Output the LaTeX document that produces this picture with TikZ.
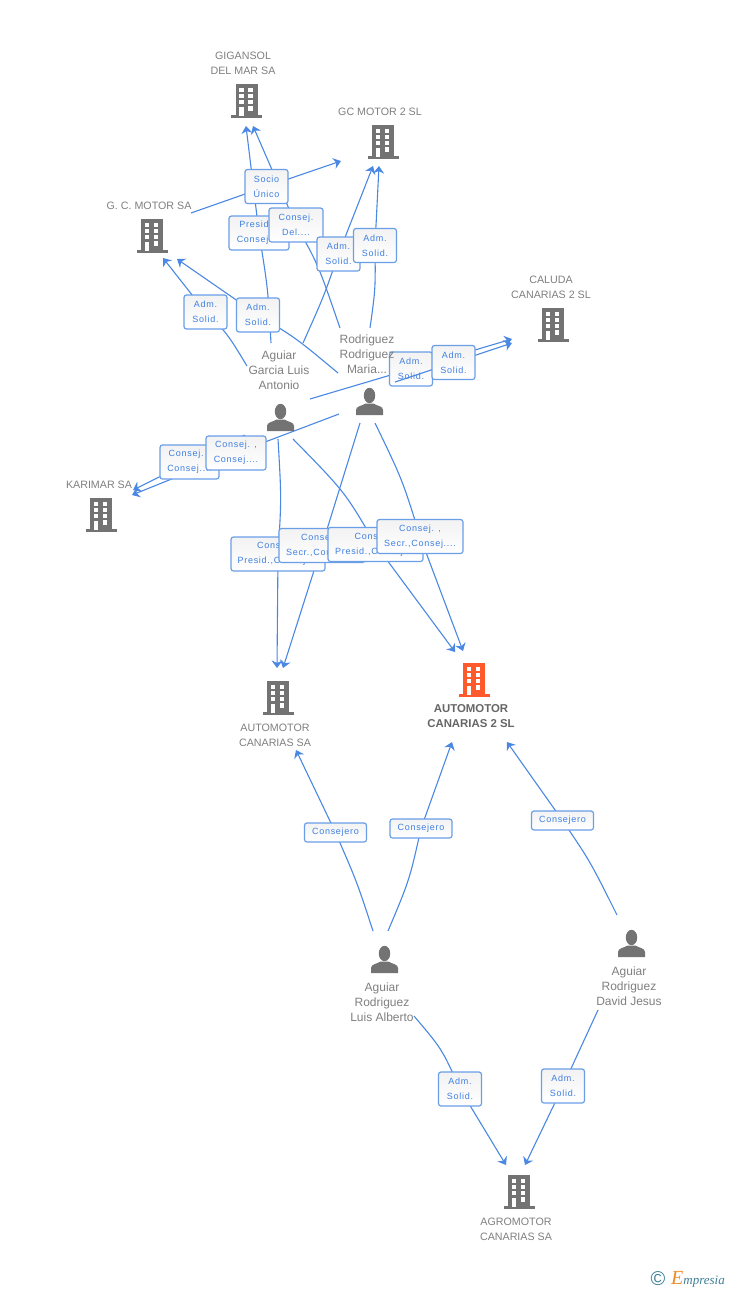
\documentclass[tikz,border=0pt]{standalone}
\usepackage{fontspec}
\setmainfont{Liberation Sans}
\newfontfamily\lblfamily[LetterSpace=8]{Liberation Sans}
\newfontfamily\logofamily{Liberation Serif}
\usetikzlibrary{arrows.meta,backgrounds}
\definecolor{linkblue}{HTML}{4A88E4}
\definecolor{boxblue}{HTML}{6A9FE8}
\definecolor{lbltext}{HTML}{3F7FE0}
\definecolor{icongray}{HTML}{737373}
\definecolor{txtgray}{HTML}{808080}
\definecolor{iconorange}{HTML}{FF5A2B}
\definecolor{logoteal}{HTML}{3F7F96}
\definecolor{logoorange}{HTML}{F08A24}
\tikzset{
  x=1pt,y=-1pt,
  link/.style={draw=linkblue,line width=1.1pt},
  arrowlink/.style={link,-{Stealth[length=7.5pt,width=11pt,inset=2.5pt]}},
  lbl/.style={draw=boxblue,line width=1.2pt,rounded corners=2.5pt,top color=black!5,bottom color=white,
    text=lbltext,inner sep=0pt,align=center,minimum height=34pt,
    font=\lblfamily\fontsize{9}{15}\selectfont},
  lblone/.style={lbl,minimum height=19pt,minimum width=62pt},
  name text/.style={text=txtgray,inner sep=0pt,align=center,font=\fontsize{10.7}{15}\selectfont},
  person text/.style={name text,font=\fontsize{12}{15}\selectfont},
}
\newcommand{\buildingicon}[3]{%
  \begin{scope}[shift={(#1,#2)}]
    \fill[#3] (-11,0) rectangle (11,32);
    \fill[#3] (-15.5,31) rectangle (15.5,34);
    \foreach \wy in {4,10,16}{
      \fill[white] (-7.5,\wy) rectangle ++(4.5,4);
      \fill[white] (1.5,\wy) rectangle ++(4.5,4);
    }
    \fill[white] (-7.5,22.5) rectangle (-3,32);
    \fill[white] (1.5,22) rectangle ++(4.5,4.5);
  \end{scope}}
\newcommand{\personicon}[2]{%
  \begin{scope}[shift={(#1,#2)}]
    \fill[icongray] (13.5,7.5) ellipse [x radius=5.7,y radius=7.7];
    \fill[icongray] (0,27) -- (0,22) .. controls (0,18) and (6,18) .. (9.5,15.5)
      -- (17.5,15.5) .. controls (21,18) and (27,18) .. (27,22) -- (27,27) -- cycle;
  \end{scope}}
\begin{document}
\begin{tikzpicture}
\useasboundingbox (0,0) rectangle (728,1290);

% free ends of the connectors
\coordinate (aglTop) at (271,343);
\coordinate (aglGC) at (303,343);
\coordinate (aglGCM) at (247,366);
\coordinate (aglCal) at (310,399);
\coordinate (aglKar) at (245,435);
\coordinate (aglAut) at (278,439);
\coordinate (aglAut2) at (293,439);
\coordinate (rodTop) at (340,328);
\coordinate (rodGC) at (370,328);
\coordinate (rodGCM) at (338,373);
\coordinate (rodCal) at (395,382);
\coordinate (rodKar) at (339,414);
\coordinate (rodAut) at (360,423);
\coordinate (rodAut2) at (375,423);
\coordinate (gcmOut) at (191,213);
\coordinate (luisL) at (373,931);
\coordinate (luisR) at (388,931);
\coordinate (luisB) at (414,1016);
\coordinate (davT) at (617,915);
\coordinate (davB) at (598,1010);
\coordinate (gigL) at (246,126);
\coordinate (gigR) at (253,126);
\coordinate (gcL) at (373,166);
\coordinate (gcR) at (379,166);
\coordinate (gcIn) at (341,161);
\coordinate (gcmL) at (163,258);
\coordinate (gcmR) at (177,259);
\coordinate (calA) at (512,339);
\coordinate (calB) at (512,343);
\coordinate (karA) at (133,490);
\coordinate (karB) at (132,495);
\coordinate (autL) at (277,668);
\coordinate (autR) at (283,668);
\coordinate (autB) at (296,750);
\coordinate (au2L) at (455,652);
\coordinate (au2R) at (463,651);
\coordinate (au2BL) at (452,742);
\coordinate (au2BR) at (507,742);
\coordinate (agrL) at (506,1165);
\coordinate (agrR) at (525,1165);

% relation labels
\node[lbl,minimum width=60pt] (presid) at (259,233) {Presid. ,\\Consej....};
\node[lbl,minimum width=54pt] (conDel) at (296,225) {Consej.\\Del....};
\node[lbl,minimum width=43pt] (socio) at (266.5,186.5) {Socio\\Único};
\node[lbl,minimum width=43pt] (admA) at (338.5,254) {Adm.\\Solid.};
\node[lbl,minimum width=43pt] (admB) at (375,245.5) {Adm.\\Solid.};
\node[lbl,minimum width=43pt] (admC) at (205.5,312) {Adm.\\Solid.};
\node[lbl,minimum width=43pt] (admD) at (258,315) {Adm.\\Solid.};
\node[lbl,minimum width=43pt] (admE) at (411,369) {Adm.\\Solid.};
\coordinate (admFc) at (453.5,362.5);
\draw[link] (rodCal) -- (admFc);
\node[lbl,minimum width=43pt] (admF) at (453.5,362.5) {Adm.\\Solid.};
\node[lbl,minimum width=59pt] (conK) at (189.5,462) {Consej. ,\\Consej....};
\node[lbl,minimum width=60pt] (conL) at (236,453) {Consej. ,\\Consej....};
\node[lbl,minimum width=94pt] (boxA) at (278,554) {Consej. ,\\Presid.,Consej....};
\node[lbl,minimum width=86pt] (boxB) at (322,545.5) {Consej. ,\\Secr.,Consej....};
\node[lbl,minimum width=95pt] (boxC) at (375.5,544.5) {Consej. ,\\Presid.,Consej....};
\node[lbl,minimum width=86pt] (boxD) at (420,536.5) {Consej. ,\\Secr.,Consej....};
\node[lblone] (coA) at (335.5,832.5) {Consejero};
\node[lblone] (coB) at (421,828.5) {Consejero};
\node[lblone] (coC) at (562.5,820.5) {Consejero};
\node[lbl,minimum width=43pt] (admG) at (460,1089) {Adm.\\Solid.};
\node[lbl,minimum width=43pt] (admH) at (563,1086) {Adm.\\Solid.};

% connectors, behind the labels
\begin{scope}[on background layer]
\fill[white] (0,0) rectangle (728,1290);
\draw[link] (aglTop) .. controls (268,289) .. (presid.center);
\draw[arrowlink] (presid.center) -- (gigL);
\draw[link] (rodTop) .. controls (318,264) .. (conDel.center);
\draw[arrowlink] (conDel.center) -- (gigR);
\draw[link] (gcmOut) -- (socio.center);
\draw[arrowlink] (socio.center) -- (gcIn);
\draw[link] (aglGC) .. controls (324,296) .. (admA.center);
\draw[arrowlink] (admA.center) -- (gcL);
\draw[link] (rodGC) .. controls (375.5,289) .. (admB.center);
\draw[arrowlink] (admB.center) -- (gcR);
\draw[link] (aglGCM) .. controls (227,333) .. (admC.center);
\draw[arrowlink] (admC.center) -- (gcmL);
\draw[link] (rodGCM) .. controls (296,338) .. (admD.center);
\draw[arrowlink] (admD.center) -- (gcmR);
\draw[link] (aglCal) -- (admE.center);
\draw[arrowlink] (admE.center) -- (calA);
\draw[arrowlink] (admF.center) -- (calB);
\draw[link] (rodKar) -- (conL.center);
\draw[arrowlink] (conL.center) -- (karB);
\draw[link] (aglKar) -- (conK.center);
\draw[arrowlink] (conK.center) -- (karA);
\draw[link] (aglAut) .. controls (281.5,499) .. (boxA.center);
\draw[arrowlink] (boxA.center) -- (autL);
\draw[link] (rodAut) -- (boxB.center);
\draw[arrowlink] (boxB.center) -- (autR);
\draw[link] (aglAut2) .. controls (345,492) .. (boxC.center);
\draw[arrowlink] (boxC.center) -- (au2L);
\draw[link] (rodAut2) .. controls (402.5,480) .. (boxD.center);
\draw[arrowlink] (boxD.center) -- (au2R);
\draw[link] (luisL) .. controls (357,882) .. (coA.center);
\draw[arrowlink] (coA.center) -- (autB);
\draw[link] (luisR) .. controls (409.5,880) .. (coB.center);
\draw[arrowlink] (coB.center) -- (au2BL);
\draw[link] (davT) .. controls (590,861) .. (coC.center);
\draw[arrowlink] (coC.center) -- (au2BR);
\draw[link] (luisB) .. controls (442,1049) .. (admG.center);
\draw[arrowlink] (admG.center) -- (agrL);
\draw[link] (davB) -- (admH.center);
\draw[arrowlink] (admH.center) -- (agrR);
\end{scope}

% icons
\buildingicon{246.5}{84}{icongray}
\buildingicon{383}{125}{icongray}
\buildingicon{152}{219}{icongray}
\buildingicon{553}{308}{icongray}
\buildingicon{101}{498}{icongray}
\buildingicon{278}{681}{icongray}
\buildingicon{474}{663}{iconorange}
\buildingicon{519}{1175}{icongray}
\personicon{267}{404}
\personicon{356}{388}
\personicon{371}{946}
\personicon{618}{930}

% names
\node[name text] (tGig) at (243,63) {GIGANSOL\\DEL MAR SA};
\node[name text] (tGC) at (380,111.5) {GC MOTOR 2 SL};
\node[name text] (tGCM) at (149,205.5) {G. C. MOTOR SA};
\node[name text] (tCal) at (551,287) {CALUDA\\CANARIAS 2 SL};
\node[name text] (tKar) at (99,484.5) {KARIMAR SA};
\node[person text] (tAgl) at (279,370) {Aguiar\\Garcia Luis\\Antonio};
\node[person text] (tRod) at (367,354) {Rodriguez\\Rodriguez\\Maria...};
\node[name text] (tAut) at (275,735) {AUTOMOTOR\\CANARIAS SA};
\node[name text,text=black!60,font=\bfseries\fontsize{11.4}{15}\selectfont] (tAu2) at (471,716) {AUTOMOTOR\\CANARIAS 2 SL};
\node[person text] (tLuis) at (382,1002) {Aguiar\\Rodriguez\\Luis Alberto};
\node[person text] (tDav) at (629,986) {Aguiar\\Rodriguez\\David Jesus};
\node[name text] (tAgr) at (516,1229) {AGROMOTOR\\CANARIAS SA};

% logo
\node[text=logoteal,inner sep=0pt,font=\fontsize{20}{20}\selectfont] (logoC) at (658,1279) {©};
\node[anchor=base west,inner sep=0pt,font=\logofamily\itshape\fontsize{13}{13}\selectfont,text=logoteal] (logoT) at (671,1284)
  {\textcolor{logoorange}{\fontsize{20}{20}\selectfont E}mpresia};
\end{tikzpicture}
\end{document}
